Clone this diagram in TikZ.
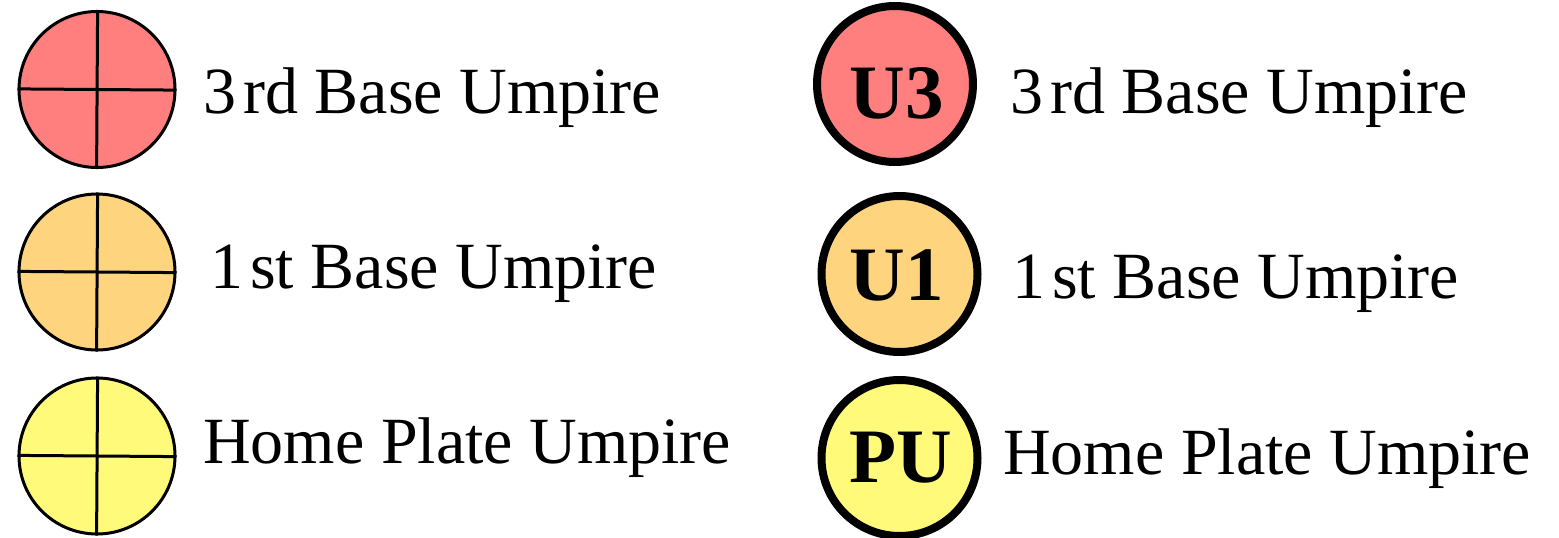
\documentclass[tikz,border=0pt]{standalone}
\usepackage{fontspec}
\setmainfont{Liberation Serif}
\definecolor{cthird}{HTML}{FF7F7F}
\definecolor{cfirst}{HTML}{FFD47F}
\definecolor{chome}{HTML}{FFFA7A}
\begin{document}
\begin{tikzpicture}[x=1pt,y=1pt,
  quad/.style={circle,draw=black,line width=3pt,minimum size=156pt,inner sep=0pt},
  ump/.style={circle,draw=black,line width=8pt,minimum size=156pt,inner sep=0pt},
  crossline/.style={line width=3pt},
  lbl/.style={anchor=base west,inner sep=0pt,font=\fontsize{66}{70}\selectfont},
  tag/.style={font=\fontsize{77}{80}\selectfont\bfseries,inner sep=0pt,anchor=base}]
\useasboundingbox (0,0) rectangle (1559,-538);
% left legend
\node[quad,fill=cthird] (q3) at (97,-89.5) {};
\node[quad,fill=cfirst] (q1) at (97,-272) {};
\node[quad,fill=chome] (qp) at (97,-456) {};
\foreach \n in {q3,q1,qp}{
  \draw[crossline] ([xshift=0.6pt]\n.north) -- ([xshift=-0.4pt]\n.south);
  \draw[crossline] ([yshift=0.6pt]\n.west) -- ([yshift=-0.6pt]\n.east);
}
\node[lbl] (l3) at (203,-113) {3\kern7pt rd Base Umpire};
\node[lbl] (l1) at (210,-288) {1\kern7pt st Base Umpire};
\node[lbl] (lp) at (203,-463) {Home Plate Umpire};
% right legend
\node[ump,fill=cthird] (u3) at (895,-84) {};
\node[ump,fill=cfirst] (u1) at (899.5,-274) {};
\node[ump,fill=chome] (pu) at (899.5,-458) {};
\node[tag] (t3) at (897,-118) {U3};
\node[tag] (t1) at (897,-300) {U1};
\node[tag] (tp) at (900.5,-482) {PU};
\node[lbl] (r3) at (1010,-113) {3\kern7pt rd Base Umpire};
\node[lbl] (r1) at (1012,-298) {1\kern7pt st Base Umpire};
\node[lbl] (rp) at (1003,-474) {Home Plate Umpire};
\end{tikzpicture}
\end{document}
